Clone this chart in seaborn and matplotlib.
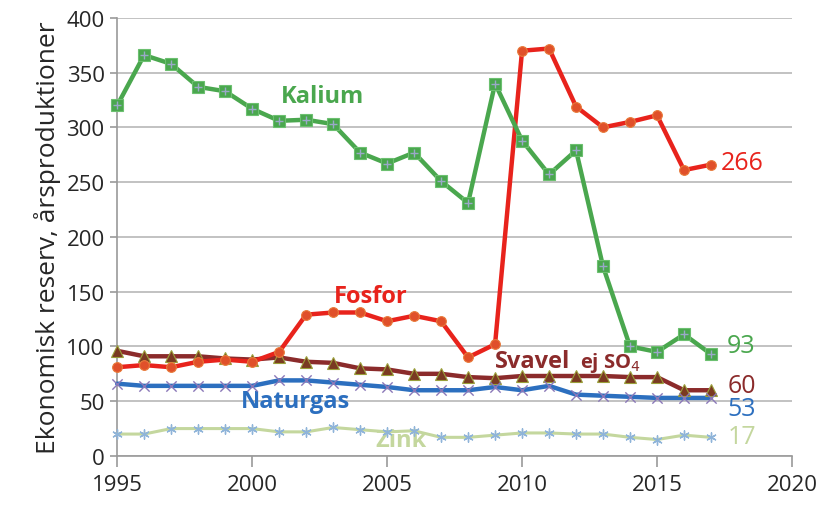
import numpy as np
import pandas as pd
import seaborn as sns
from matplotlib import pyplot as plt

# data
years = list(range(1995, 2018))
kalium = [320, 366, 358, 337, 333, 317, 306, 307, 303, 277, 267, 277, 251, 231, 340,
          288, 257, 279, 173, 100, 95, 111, 93]
fosfor = [81, 83, 81, 86, 88, 86, 95, 129, 131, 131, 123, 128, 123, 90, 102,
          370, 372, 319, 300, 305, 311, 261, 266]
svavel = [96, 91, 91, 91, 89, 88, 90, 86, 85, 80, 79, 75, 75, 72, 71,
          73, 73, 73, 73, 72, 72, 60, 60]
naturgas = [66, 64, 64, 64, 64, 64, 69, 69, 67, 65, 63, 60, 60, 60, 63,
            60, 64, 56, 55, 54, 53, 53, 53]
zink = [20, 20, 25, 25, 25, 25, 22, 22, 26, 24, 22, 23, 17, 17, 19,
        21, 21, 20, 20, 17, 15, 19, 17]
end_labels = ["266", "93", "60", "53", "17"]

c_kal = "#4aa74e"
c_fos = "#e8231c"
c_sva = "#8b2b2b"
c_nat = "#2c6fbf"
c_zin = "#c4d79e"

sns.set_theme(style="white")
plt.rcParams['font.family'] = ['Open Sans', 'DejaVu Sans']

fig = plt.figure(figsize=(8.25, 5.1), dpi=100)
ax = fig.add_axes([0.142, 0.104, 0.818, 0.859])

# Zink
sns.lineplot(x=years, y=zink, ax=ax, color=c_zin, linewidth=2.2, zorder=3, clip_on=False)
sns.scatterplot(x=years, y=zink, ax=ax, marker=(6, 2, 0), s=45, color="#8fb4d9",
                linewidth=1, zorder=4, clip_on=False)
# Naturgas
sns.lineplot(x=years, y=naturgas, ax=ax, color=c_nat, linewidth=3.2, zorder=3, clip_on=False)
sns.scatterplot(x=years, y=naturgas, ax=ax, marker="x", s=55, color="#8a78b8",
                linewidth=1, zorder=4, clip_on=False)
# Svavel
sns.lineplot(x=years, y=svavel, ax=ax, color=c_sva, linewidth=3.2, zorder=3,
             marker="^", markersize=8, markerfacecolor="#7a3a22",
             markeredgecolor="#9aa03a", markeredgewidth=0.8, clip_on=False)
# Fosfor
sns.lineplot(x=years, y=fosfor, ax=ax, color=c_fos, linewidth=3.2, zorder=3,
             marker="o", markersize=7, markerfacecolor="#e0502a",
             markeredgecolor="#e87a3a", markeredgewidth=0.8, clip_on=False)
# Kalium
sns.lineplot(x=years, y=kalium, ax=ax, color=c_kal, linewidth=3.2, zorder=3,
             marker="s", markersize=8, markerfacecolor=c_kal,
             markeredgecolor="#6cc070", markeredgewidth=0.8, clip_on=False)
sns.scatterplot(x=years, y=kalium, ax=ax, marker="+", s=40, color="#9aa8c8",
                linewidth=1, zorder=5, clip_on=False)

ax.set_xlim(1995, 2020)
ax.set_ylim(0, 400)
ax.set_xticks(range(1995, 2021, 5))
ax.set_yticks(range(0, 401, 50))
ax.grid(axis="y", color="#b8b8b8", linewidth=1.2)
ax.set_axisbelow(True)
for s in ["top", "right"]:
    ax.spines[s].set_visible(False)
for s in ["left", "bottom"]:
    ax.spines[s].set_color("#9a9a9a")
    ax.spines[s].set_linewidth(1.2)
ax.tick_params(axis="x", bottom=True, length=8, width=1.2, color="#9a9a9a",
               labelsize=16, pad=5)
ax.tick_params(axis="y", left=True, length=5, width=1.2, color="#9a9a9a",
               labelsize=16, pad=4)
ax.set_ylabel("Ekonomisk reserv, årsproduktioner", fontsize=19, labelpad=4)

# series names
ax.text(2002.6, 329, "Kalium", color=c_kal, fontsize=17, fontweight="bold",
        ha="center", va="center")
ax.text(2004.4, 146, "Fosfor", color=c_fos, fontsize=17, fontweight="bold",
        ha="center", va="center")
ax.text(2009.0, 81, "Svavel", color=c_sva, fontsize=17, fontweight="bold",
        ha="left", va="baseline")
ax.text(2012.15, 81, "ej SO$_4$", color=c_sva, fontsize=14.5, fontweight="bold",
        ha="left", va="baseline")
ax.text(2001.6, 50, "Naturgas", color=c_nat, fontsize=17, fontweight="bold",
        ha="center", va="center")
ax.text(2005.5, 15, "Zink", color=c_zin, fontsize=17, fontweight="bold",
        ha="center", va="center", zorder=2)

# end values
end_y = [268, 101, 64, 43, 18]
end_c = [c_fos, c_kal, c_sva, c_nat, c_zin]
end_x = [2017.35, 2017.6, 2017.6, 2017.6, 2017.6]
for lab, yy, cc, xx in zip(end_labels, end_y, end_c, end_x):
    ax.text(xx, yy, lab, color=cc, fontsize=18, ha="left", va="center")

fig.savefig("out.png", dpi=100)
